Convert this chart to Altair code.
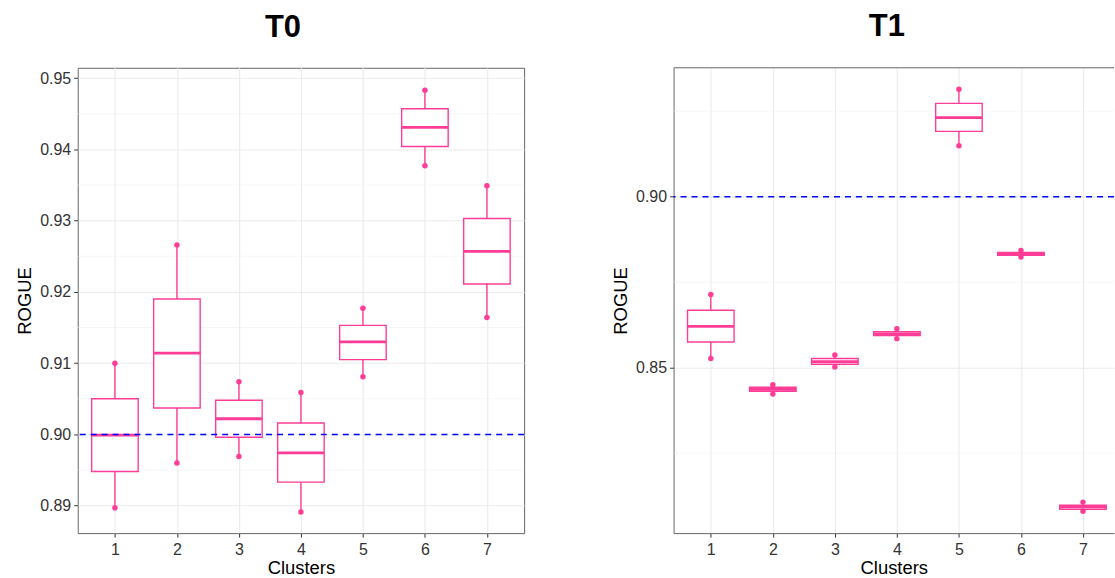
import altair as alt
import pandas as pd

# Cluster ids shared by both time points
clusters = [1, 2, 3, 4, 5, 6, 7]
threshold = 0.90

# T0 box statistics per cluster
t0_lower = [0.8897, 0.8960, 0.8969, 0.8891, 0.9081, 0.9377, 0.9164]
t0_q1 = [0.8948, 0.9037, 0.8996, 0.8933, 0.9105, 0.9404, 0.9211]
t0_median = [0.8999, 0.9114, 0.9022, 0.8974, 0.9130, 0.9431, 0.9257]
t0_q3 = [0.9050, 0.9190, 0.9048, 0.9016, 0.9153, 0.9457, 0.9303]
t0_upper = [0.9100, 0.9266, 0.9074, 0.9059, 0.9177, 0.9483, 0.9349]

# T1 box statistics per cluster
t1_lower = [0.8527, 0.8423, 0.8502, 0.8585, 0.9149, 0.8824, 0.8080]
t1_q1 = [0.8575, 0.8431, 0.8510, 0.8594, 0.9191, 0.8829, 0.8086]
t1_median = [0.8621, 0.8437, 0.8518, 0.8599, 0.9231, 0.8833, 0.8093]
t1_q3 = [0.8668, 0.8443, 0.8527, 0.8605, 0.9273, 0.8837, 0.8098]
t1_upper = [0.8714, 0.8450, 0.8537, 0.8614, 0.9314, 0.8843, 0.8107]

# Axis ticks
t0_ticks = [0.89, 0.90, 0.91, 0.92, 0.93, 0.94, 0.95]
t0_minor = [0.895, 0.905, 0.915, 0.925, 0.935, 0.945]
t1_ticks = [0.85, 0.90]
t1_minor = [0.825, 0.875, 0.925]

PINK = "#FF3D96"
FONT = "Liberation Sans"
BOX_HALF = 0.375


def panel(title, lower, q1, median, q3, upper, y_domain, y_ticks, y_minor,
          x_max, width, dx, framed):
    df = pd.DataFrame(dict(cluster=clusters, lower=lower, q1=q1,
                           median=median, q3=q3, upper=upper))
    xscale = alt.Scale(domain=[0.4, x_max], nice=False, zero=False)
    yscale = alt.Scale(domain=y_domain, nice=False, zero=False)

    if framed:
        domain_kw = dict(domain=False)
    else:
        domain_kw = dict(domain=True, domainColor="#666666", domainWidth=1)
    common = dict(grid=True, gridColor="#EBEBEB", gridWidth=1.1,
                  tickColor="#333333", tickSize=4, labelFontSize=16,
                  labelColor="#333333", labelFont=FONT, titleFont=FONT,
                  titleFontSize=18.5, titleFontWeight="normal",
                  titleColor="#000000", **domain_kw)
    x_axis = alt.Axis(values=clusters, format="d", title="Clusters",
                      labelPadding=4, titlePadding=2, **common)
    y_axis = alt.Axis(values=y_ticks, format=".2f", title="ROGUE",
                      labelPadding=3, titlePadding=5, **common)

    base = alt.Chart(df).transform_calculate(
        x0=f"datum.cluster - {BOX_HALF}", x1=f"datum.cluster + {BOX_HALF}"
    )

    minor = alt.Chart(pd.DataFrame({"v": y_minor})).mark_rule(
        color="#F0F0F0", strokeWidth=0.6
    ).encode(y=alt.Y("v:Q", scale=yscale, axis=y_axis))

    whisker = base.mark_rule(color=PINK, strokeWidth=1.4).encode(
        x=alt.X("cluster:Q", scale=xscale, axis=x_axis),
        y=alt.Y("lower:Q", scale=yscale),
        y2="upper:Q",
    )
    box = base.mark_rect(fill="white", stroke=PINK, strokeWidth=1.4).encode(
        x=alt.X("x0:Q", scale=xscale), x2="x1:Q",
        y=alt.Y("q1:Q", scale=yscale), y2="q3:Q",
    )
    med = base.mark_rule(color=PINK, strokeWidth=2.8).encode(
        x=alt.X("x0:Q", scale=xscale), x2="x1:Q",
        y=alt.Y("median:Q", scale=yscale),
    )
    ends = base.transform_fold(["lower", "upper"], as_=["end", "value"]).mark_circle(
        size=30, color=PINK, opacity=1
    ).encode(
        x=alt.X("cluster:Q", scale=xscale),
        y=alt.Y("value:Q", scale=yscale),
    )
    hline = alt.Chart(pd.DataFrame({"threshold": [threshold]})).mark_rule(
        color="#0000FF", strokeDash=[6, 5], strokeWidth=1.4
    ).encode(y=alt.Y("threshold:Q", scale=yscale))

    layers = [minor, whisker, box, med, ends, hline]
    if not framed:
        top_edge = alt.Chart(pd.DataFrame({"v": [0]})).mark_rule(
            color="#666666", strokeWidth=1
        ).encode(x=alt.value(0), x2=alt.value(width), y=alt.value(0))
        layers.append(top_edge)

    chart = alt.layer(*layers).properties(
        width=width, height=467,
        title=alt.TitleParams(title, fontSize=31, fontWeight="bold", font=FONT,
                              anchor="middle", frame="group", offset=24, dx=dx,
                              color="#000000"),
    )
    if not framed:
        chart = chart.properties(view=alt.ViewBackground(strokeOpacity=0))
    return chart


left = panel("T0", t0_lower, t0_q1, t0_median, t0_q3, t0_upper,
             [0.88615, 0.95145], t0_ticks, t0_minor, 7.6, 448, -18, True)
right = panel("T1", t1_lower, t1_q1, t1_median, t1_q3, t1_upper,
              [0.80163, 0.9377], t1_ticks, t1_minor, 7.5, 442, -7, False)

chart = alt.hconcat(left, right, spacing=85).configure_view(
    stroke="#666666", strokeWidth=1
).properties(
    padding={"left": 15, "top": 10, "right": 0, "bottom": 0},
    background="white",
)

chart.save("out.html", embed_options={"renderer": "svg", "actions": False})
